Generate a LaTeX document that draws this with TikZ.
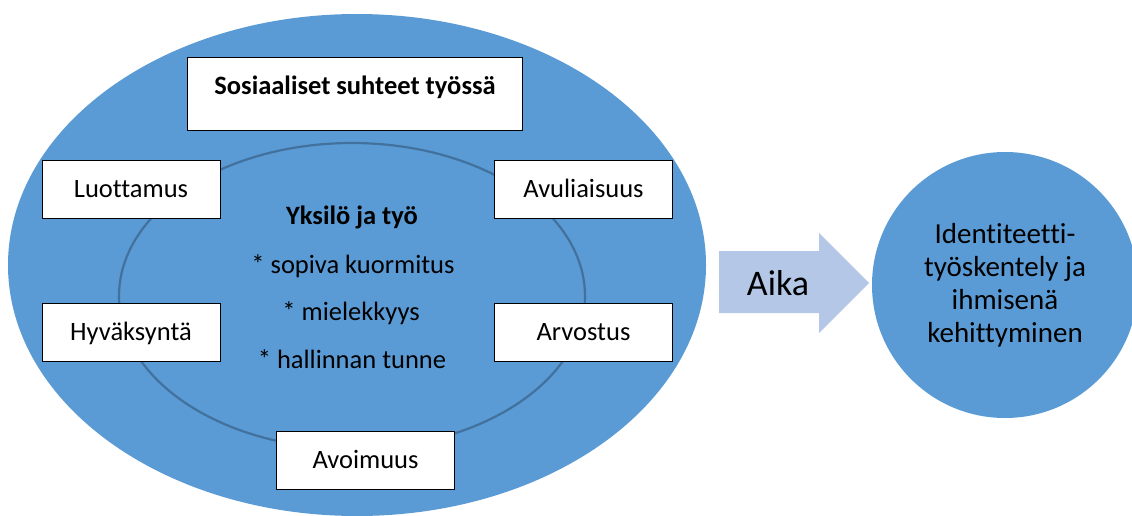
\documentclass[tikz,border=0pt]{standalone}
\usepackage{fontspec}
\setmainfont[Ligatures={NoCommon}]{Carlito}
\definecolor{mainblue}{HTML}{5B9BD5}
\definecolor{ringc}{HTML}{41719C}
\definecolor{arrowc}{HTML}{B4C7E7}
\begin{document}
\begin{tikzpicture}[x=1pt,y=-1pt,
  wbox/.style={draw=black, line width=0.9pt, fill=white, minimum width=178pt,
    minimum height=58pt, inner sep=0pt, text height=18pt, text depth=2pt,
    font=\fontsize{26.5}{31}\selectfont},
  ctext/.style={anchor=base, inner sep=0pt, font=\fontsize{26.5}{31}\selectfont}]
\useasboundingbox (0,0) rectangle (1132,516);
% outer ellipse and inner ring
\fill[mainblue] (357,265) ellipse [x radius=349, y radius=251];
\draw[ringc, line width=2.2pt] (352,296) ellipse [x radius=233, y radius=153];
% top box
\node[wbox, minimum width=335pt, minimum height=73pt] (soc) at (354.5,93.5) {};
\node[ctext, font=\fontsize{26.5}{31}\selectfont\bfseries] (soct) at (355,95) {Sosiaaliset suhteet työssä};
% side boxes
\node[wbox] (luo) at (131,189) {Luottamus};
\node[wbox] (avu) at (583.5,189) {Avuliaisuus};
\node[wbox] (hyv) at (131,332) {Hyväksyntä};
\node[wbox] (arv) at (583.5,332) {Arvostus};
\node[wbox] (avo) at (365.5,460) {Avoimuus};
% centre texts
\node[ctext, font=\fontsize{26.5}{31}\selectfont\bfseries] (yks) at (352,224) {Yksilö ja työ};
\node[ctext] (b1) at (353,273) {* sopiva kuormitus};
\node[ctext] (b2) at (351,320) {* mielekkyys};
\node[ctext] (b3) at (352,368) {* hallinnan tunne};
% block arrow
\fill[arrowc] (719,251) -- (819,251) -- (819,233) -- (869,283) -- (819,333)
  -- (819,313) -- (719,313) -- cycle;
\node[inner sep=0pt, font=\fontsize{36}{40}\selectfont] (aika) at (778,283) {Aika};
% goal circle
\node[circle, fill=mainblue, minimum size=266pt, inner sep=0pt, align=center,
  font=\fontsize{29}{33}\selectfont] (goal) at (1005,285)
  {Identiteetti-\\työskentely ja\\ihmisenä\\kehittyminen};
\end{tikzpicture}
\end{document}
